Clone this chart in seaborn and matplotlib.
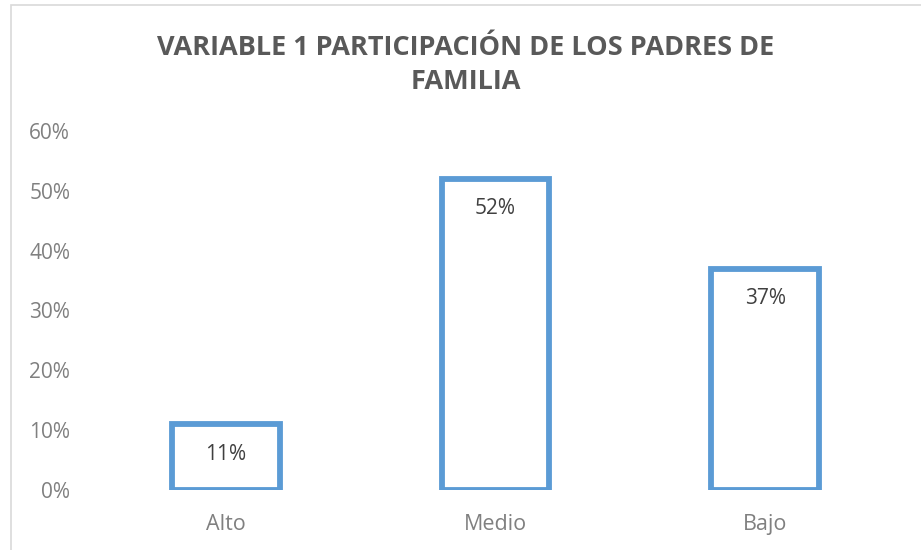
import matplotlib
matplotlib.use("Agg")
import matplotlib.pyplot as plt
import seaborn as sns
import pandas as pd
from matplotlib.patches import Rectangle

categorias = ["Alto", "Medio", "Bajo"]
porcentajes = [0.11, 0.52, 0.37]
etiquetas = ["11%", "52%", "37%"]
ticks_y = [0, 0.1, 0.2, 0.3, 0.4, 0.5, 0.6]
ticks_y_txt = ["0%", "10%", "20%", "30%", "40%", "50%", "60%"]
titulo = "VARIABLE 1 PARTICIPACIÓN DE LOS PADRES DE\nFAMILIA"

AZUL = "#5B9BD5"
GRIS = "#808080"

sns.set_style("white")
plt.rcParams['font.family'] = ['Open Sans', 'DejaVu Sans']

df = pd.DataFrame({"categoria": categorias, "valor": porcentajes})

fig = plt.figure(figsize=(9.21, 5.5), dpi=100)
ax = fig.add_axes([91 / 921, 1 - 490 / 550, (900 - 91) / 921, (490 - 131) / 550])

sns.barplot(data=df, x="categoria", y="valor", ax=ax, width=0.4,
            color="white", edgecolor=AZUL, linewidth=4.2, saturation=1)

for i, (v, t) in enumerate(zip(porcentajes, etiquetas)):
    ax.text(i, v - 0.05, t, ha="center", va="center", fontsize=15, color="#404040")

ax.set_ylim(0, 0.6)
ax.set_xlim(-0.5, 2.5)
ax.set_yticks(ticks_y)
ax.set_yticklabels(ticks_y_txt)
ax.tick_params(axis="y", length=0, labelsize=15, labelcolor=GRIS, pad=15)
ax.tick_params(axis="x", length=0, labelsize=15.5, labelcolor=GRIS, pad=17.5)
ax.set_xlabel("")
ax.set_ylabel("")
for s in ax.spines.values():
    s.set_visible(False)

fig.text(466 / 921, 1 - 65 / 550, titulo, ha="center", va="center",
         fontsize=19.5, fontweight="bold", color="#595959", linespacing=1.4)

# borde del área del gráfico
fig.patches.append(Rectangle((11 / 921, -0.05), 1.0, 1 - 5 / 550 + 0.05,
                             transform=fig.transFigure, fill=False,
                             edgecolor="#d9d9d9", linewidth=1.2))

fig.savefig("out.png", dpi=100)
